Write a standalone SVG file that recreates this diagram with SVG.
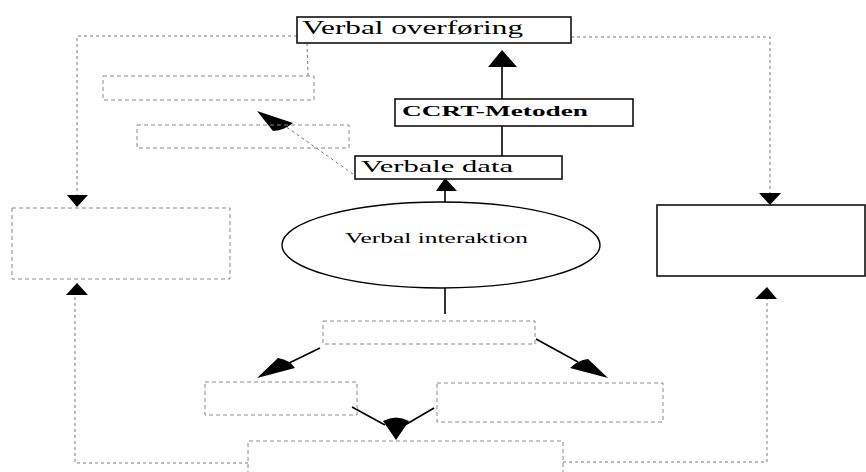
<svg xmlns="http://www.w3.org/2000/svg" width="866" height="472" viewBox="0 0 866 472">
  <style>
    .box { fill: #fff; stroke: #111; stroke-width: 1.6; }
    .dbox { fill: none; stroke: #8a8a8a; stroke-width: 1; stroke-dasharray: 4 3; }
    .dline { fill: none; stroke: #7a7a7a; stroke-width: 1; stroke-dasharray: 3 3; }
    .line { fill: none; stroke: #000; stroke-width: 1.6; }
    .head { fill: #000; stroke: none; }
    .lbl { font-family: "Liberation Serif", "Times New Roman", serif; fill: #000; }
  </style>
  <rect width="866" height="472" fill="#fff"/>

  <!-- connectors -->
  <g id="connectors">
    <!-- dashed feedback routes -->
    <polyline class="dline" points="297,36 77,36 77,196"/>
    <polyline class="dline" points="307,43 308,76"/>
    <polyline class="dline" points="571,37 770,37 770,194"/>
    <polyline class="dline" points="248,463 75,463 75,295"/>
    <polyline class="dline" points="563,462 767,462 767,299"/>
    <line class="dline" x1="353" y1="174" x2="285" y2="126"/>
    <!-- solid flow lines -->
    <line class="line" x1="502" y1="156" x2="502" y2="66"/>
    <line class="line" x1="445" y1="202" x2="445" y2="190"/>
    <line class="line" x1="445" y1="288" x2="445" y2="314"/>
    <line class="line" x1="320" y1="348" x2="285" y2="365"/>
    <line class="line" x1="536" y1="339" x2="578" y2="362"/>
    <line class="line" x1="352" y1="407" x2="385" y2="425"/>
    <line class="line" x1="434" y1="408" x2="405" y2="425"/>
    <!-- arrowheads -->
    <polygon class="head" points="502,50 488,67 517,67"/>
    <polygon class="head" points="445,178 436,191 457,191"/>
    <polygon class="head" points="77,207 67,195 88,195"/>
    <polygon class="head" points="770,205 759,193 781,193"/>
    <polygon class="head" points="77,283 66,295 88,295"/>
    <polygon class="head" points="767,287 755,299 777,299"/>
    <path class="head" d="M257,111 L273,131 Q285,130 293,123 Z"/>
    <path class="head" d="M257,378 L278,358 Q290,360 295,368 Z"/>
    <path class="head" d="M608,378 L570,368 Q578,360 588,359 Z"/>
    <path class="head" d="M396,440 L383,421 Q396,414 409,421 Z"/>
  </g>

  <g id="verbal-overforing">
    <rect class="box" x="297" y="17" width="274" height="26"/>
    <text class="lbl" x="302" y="34" font-size="18" textLength="221" lengthAdjust="spacingAndGlyphs">Verbal overføring</text>
  </g>

  <g id="ccrt-metoden">
    <rect class="box" x="395" y="99" width="238" height="27"/>
    <text class="lbl" x="402" y="116" font-size="15" font-weight="bold" textLength="186" lengthAdjust="spacingAndGlyphs">CCRT-Metoden</text>
  </g>

  <g id="verbale-data">
    <rect class="box" x="355" y="156" width="207" height="23"/>
    <text class="lbl" x="361" y="172" font-size="17" textLength="152" lengthAdjust="spacingAndGlyphs">Verbale data</text>
  </g>

  <g id="verbal-interaktion">
    <ellipse cx="441" cy="245" rx="159" ry="43" fill="#fff" stroke="#000" stroke-width="1.4"/>
    <text class="lbl" x="345" y="243" font-size="15" textLength="183" lengthAdjust="spacingAndGlyphs">Verbal interaktion</text>
  </g>

  <g id="right-box">
    <rect class="box" x="657" y="205" width="208" height="71"/>
  </g>

  <g id="left-box">
    <rect class="dbox" x="12" y="208" width="218" height="71"/>
  </g>

  <g id="top-dashed-1">
    <rect class="dbox" x="103" y="76" width="211" height="24"/>
  </g>
  <g id="top-dashed-2">
    <rect class="dbox" x="137" y="125" width="212" height="23"/>
  </g>

  <g id="middle-dashed">
    <rect class="dbox" x="323" y="321" width="212" height="23"/>
  </g>
  <g id="lower-left-dashed">
    <rect class="dbox" x="205" y="382" width="152" height="33"/>
  </g>
  <g id="lower-right-dashed">
    <rect class="dbox" x="437" y="383" width="226" height="39"/>
  </g>
  <g id="bottom-dashed">
    <polyline class="dbox" points="248,475 248,441 563,441 563,475"/>
  </g>
</svg>
